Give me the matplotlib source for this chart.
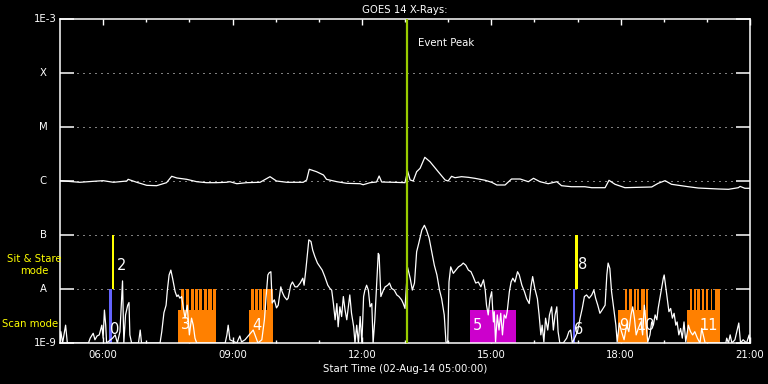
import matplotlib
matplotlib.use("Agg")
import matplotlib.pyplot as plt
import matplotlib.transforms as mtransforms
import numpy as np

# ---- data (hours UT on 02-Aug-14, log10 flux in W/m^2) ----
hi_t = [5.00, 5.46, 5.77, 6.00, 6.24, 6.55, 6.58, 6.78, 7.01, 7.24, 7.47, 7.59, 7.71, 7.94,
        8.17, 8.40, 8.63, 8.86, 8.94, 9.10, 9.33, 9.64, 9.87, 10.02, 10.26, 10.64, 10.72,
        10.78, 10.95, 11.11, 11.18, 11.42, 11.65, 11.96, 12.03, 12.19, 12.34, 12.40, 12.46,
        12.73, 13.00, 13.06, 13.12, 13.19, 13.27, 13.35, 13.46, 13.58, 13.77, 13.93, 14.00,
        14.08, 14.16, 14.31, 14.47, 14.62, 14.86, 15.01, 15.13, 15.32, 15.47, 15.67, 15.86,
        15.98, 16.13, 16.32, 16.52, 16.63, 16.86, 17.17, 17.33, 17.64, 17.73, 17.87, 18.10,
        18.41, 18.72, 18.87, 19.03, 19.18, 19.57, 19.80, 20.27, 20.50, 20.73, 20.77, 20.88,
        21.00]
hi_log = [-5.994, -6.024, -6.006, -5.994, -6.024, -6.000, -5.969, -6.024, -6.080, -6.087,
          -6.031, -5.913, -5.944, -5.969, -6.013, -6.031, -6.031, -6.024, -6.013, -6.050,
          -6.031, -6.024, -5.920, -6.000, -6.024, -6.024, -5.981, -5.783, -5.828, -5.889,
          -5.969, -6.013, -6.043, -6.050, -6.069, -6.031, -6.019, -5.907, -6.019, -6.024,
          -6.031, -5.815, -5.981, -6.000, -5.828, -5.765, -5.561, -5.643, -5.828, -5.981,
          -6.000, -5.913, -5.939, -5.920, -5.932, -5.950, -5.987, -6.024, -6.074, -6.074,
          -5.963, -5.963, -6.013, -5.950, -6.013, -6.050, -6.013, -6.087, -6.106, -6.106,
          -6.124, -6.124, -5.987, -6.061, -6.124, -6.117, -6.111, -6.043, -5.994, -6.061,
          -6.106, -6.130, -6.148, -6.154, -6.124, -6.100, -6.135, -6.135]

lo_t = [5.00, 5.02, 5.06, 5.13, 5.17, 5.66, 5.70, 5.77, 5.81, 5.86, 5.91, 5.97, 6.00, 6.03,
        6.06, 6.08, 6.22, 6.28, 6.33, 6.39, 6.45, 6.48, 6.52, 6.57, 6.60, 6.62, 6.66, 6.82,
        6.86, 6.89, 7.32, 7.36, 7.41, 7.46, 7.49, 7.53, 7.57, 7.61, 7.67, 7.71, 7.74, 7.78,
        7.82, 7.86, 7.90, 7.95, 8.00, 8.05, 8.09, 8.13, 8.17, 8.83, 8.87, 8.90, 8.94, 9.10,
        9.17, 9.21, 9.29, 9.48, 9.59, 9.68, 9.74, 9.78, 9.82, 9.85, 9.89, 9.92, 9.97, 10.02,
        10.06, 10.12, 10.15, 10.20, 10.26, 10.29, 10.35, 10.39, 10.45, 10.50, 10.57, 10.63,
        10.66, 10.70, 10.74, 10.77, 10.82, 10.86, 10.91, 10.97, 11.03, 11.08, 11.14, 11.21,
        11.26, 11.30, 11.34, 11.38, 11.42, 11.45, 11.49, 11.53, 11.57, 11.61, 11.65, 11.69,
        11.72, 11.76, 11.81, 11.84, 11.88, 11.92, 11.96, 12.00, 12.04, 12.07, 12.11, 12.15,
        12.19, 12.23, 12.26, 12.30, 12.34, 12.38, 12.40, 12.44, 12.50, 12.54, 12.60, 12.64,
        12.69, 12.75, 12.81, 12.86, 12.92, 12.96, 13.00, 13.06, 13.12, 13.17, 13.22, 13.27,
        13.32, 13.39, 13.45, 13.50, 13.56, 13.62, 13.68, 13.74, 13.80, 13.85, 13.91, 13.95,
        13.99, 14.02, 14.06, 14.12, 14.18, 14.24, 14.30, 14.35, 14.41, 14.47, 14.53, 14.58,
        14.64, 14.70, 14.76, 14.82, 14.86, 14.89, 14.93, 14.97, 15.01, 15.05, 15.07, 15.10,
        15.14, 15.18, 15.22, 15.26, 15.30, 15.34, 15.37, 15.42, 15.46, 15.50, 15.55, 15.61,
        15.65, 15.71, 15.77, 15.82, 15.88, 15.92, 15.96, 16.01, 16.07, 16.11, 16.15, 16.18,
        16.22, 16.26, 16.31, 16.35, 16.40, 16.44, 16.48, 16.52, 16.55, 16.59, 16.67, 16.75,
        16.80, 16.84, 16.88, 17.00, 17.06, 17.11, 17.16, 17.21, 17.27, 17.33, 17.38, 17.42,
        17.47, 17.52, 17.57, 17.64, 17.68, 17.71, 17.75, 17.79, 17.85, 17.89, 17.92, 17.97,
        18.02, 18.08, 18.14, 18.19, 18.24, 18.28, 18.32, 18.36, 18.41, 18.47, 18.51, 18.55,
        18.59, 18.63, 18.68, 18.72, 18.76, 18.80, 18.84, 18.87, 18.91, 18.95, 18.99, 19.01,
        19.04, 19.08, 19.12, 19.16, 19.20, 19.24, 19.28, 19.31, 19.35, 19.39, 19.43, 19.47,
        19.51, 19.57, 19.62, 19.67, 19.72, 19.78, 19.84, 19.88, 19.96, 20.44, 20.46, 20.50,
        20.54, 20.58, 20.65, 20.74, 20.78, 20.84, 20.92, 20.98, 21.00]
lo_log = [-9.0, -8.79, -9.0, -8.67, -9.0, -9.0, -8.91, -8.82, -8.94, -8.87, -8.85, -8.67,
          -8.91, -8.39, -8.67, -9.0, -8.91, -8.85, -9.0, -8.79, -7.85, -9.0, -8.48, -8.30,
          -8.25, -8.85, -9.0, -9.0, -8.76, -9.0, -9.0, -8.79, -8.44, -8.30, -8.02, -7.74,
          -7.65, -7.80, -8.05, -8.14, -8.11, -8.17, -8.14, -8.35, -8.54, -8.30, -8.85, -8.54,
          -8.67, -8.91, -9.0, -9.0, -8.85, -8.67, -8.94, -9.0, -8.87, -8.98, -8.94, -8.76,
          -9.0, -8.94, -8.57, -8.14, -7.74, -7.70, -7.68, -8.26, -8.20, -8.35, -8.30, -7.96,
          -8.05, -8.14, -8.20, -8.17, -7.93, -7.87, -7.96, -7.96, -7.89, -7.80, -7.93, -7.65,
          -7.34, -7.09, -7.12, -7.28, -7.40, -7.52, -7.59, -7.65, -7.77, -7.93, -7.99, -8.02,
          -8.27, -8.57, -8.27, -8.70, -8.33, -8.51, -8.14, -8.39, -8.57, -8.30, -8.11, -8.45,
          -8.70, -9.0, -8.67, -9.0, -8.51, -9.0, -8.14, -8.02, -7.93, -8.02, -8.33, -8.27,
          -9.0, -8.57, -7.96, -7.34, -7.37, -8.14, -8.02, -7.96, -7.93, -7.89, -7.99, -8.02,
          -8.11, -8.14, -8.20, -8.27, -8.36, -7.60, -7.80, -8.02, -7.89, -7.31, -7.15, -6.91,
          -6.82, -6.91, -7.06, -7.31, -7.56, -7.74, -8.02, -8.18, -8.48, -8.98, -9.0, -7.87,
          -7.59, -7.71, -7.65, -7.59, -7.56, -7.52, -7.56, -7.65, -7.68, -7.77, -7.89, -7.87,
          -7.96, -7.83, -8.02, -8.30, -8.48, -8.18, -8.05, -8.61, -8.42, -8.98, -8.48, -8.76,
          -8.45, -8.85, -8.48, -8.54, -8.42, -8.05, -7.87, -7.80, -7.87, -7.68, -7.74, -7.93,
          -8.05, -8.18, -8.27, -7.96, -7.77, -7.99, -8.18, -8.48, -8.85, -8.67, -8.98, -8.54,
          -8.76, -8.48, -8.33, -8.76, -8.48, -8.33, -8.79, -9.0, -9.0, -8.91, -8.79, -8.76,
          -9.0, -8.79, -8.54, -8.36, -8.14, -8.11, -8.17, -8.11, -8.02, -8.17, -8.30, -8.45,
          -8.39, -8.30, -7.74, -7.52, -7.62, -8.05, -8.42, -8.67, -8.98, -8.63, -8.79, -8.94,
          -8.67, -8.79, -8.48, -8.33, -8.54, -8.85, -8.73, -8.61, -8.85, -8.30, -8.67, -8.98,
          -8.85, -8.61, -8.67, -8.48, -8.57, -8.36, -8.17, -7.99, -7.80, -7.74, -7.93, -8.17,
          -8.42, -8.36, -8.54, -8.45, -8.67, -8.61, -8.85, -8.73, -8.91, -8.61, -8.98, -8.67,
          -8.79, -8.85, -8.79, -8.91, -9.0, -8.73, -9.0, -9.0, -8.91, -9.0, -8.85, -9.0, -8.94,
          -8.63, -9.0, -8.94, -9.0, -8.85, -9.0]

event_peak = 13.04

# scan-mode blocks (orange) and their raster teeth
scan_start = [7.74, 9.38, 17.95, 19.53]
scan_end = [8.62, 9.93, 18.64, 20.30]
scan_top = 4.1e-9
tooth_start = [7.80, 7.92, 8.03, 8.13, 8.23, 8.34, 8.44, 8.54,
               9.43, 9.52, 9.61, 9.71, 9.81,
               18.09, 18.19, 18.30, 18.37, 18.47, 18.59,
               19.61, 19.70, 19.78, 19.88, 19.98, 20.09, 20.19]
tooth_end = [7.88, 7.99, 8.10, 8.20, 8.30, 8.41, 8.52, 8.62,
             9.50, 9.59, 9.68, 9.78, 9.93,
             18.15, 18.26, 18.35, 18.43, 18.56, 18.64,
             19.66, 19.75, 19.84, 19.94, 20.03, 20.13, 20.30]
# other block (magenta)
mag_start, mag_end = 14.51, 15.57

# sit & stare markers
ss_blue_start = [6.14, 16.90]
ss_blue_end = [6.20, 16.95]
ss_yel_start = [6.20, 16.95]
ss_yel_end = [6.245, 17.00]

# observation number labels
obs_lab = ["0", "2", "3", "4", "5", "6", "8", "9", "10", "11"]
obs_t = [6.16, 6.31, 7.81, 9.45, 14.58, 16.93, 17.02, 17.97, 18.37, 19.82]
obs_y = [1.3e-9, 2.0e-8, 1.6e-9, 1.5e-9, 1.5e-9, 1.3e-9, 2.1e-8, 1.5e-9, 1.5e-9, 1.5e-9]

ylev = [1e-3, 1e-4, 1e-5, 1e-6, 1e-7, 1e-8, 1e-9]
ylab = ["1E-3", "X", "M", "C", "B", "A", "1E-9"]
xticks = [6, 9, 12, 15, 18, 21]
xlab = ["06:00", "09:00", "12:00", "15:00", "18:00", "21:00"]

BLUE = "#6464ff"
YEL = "#ffff00"
ORANGE = "#ff8000"
MAG = "#cc00cc"
GREEN = "#99cc00"
FS = 7.3

fig = plt.figure(figsize=(7.68, 3.84), dpi=100, facecolor="black")
ax = fig.add_axes([60 / 768, 1 - 343 / 384, 690 / 768, 324 / 384])
ax.set_facecolor("black")
ax.set_yscale("log")
ax.set_xlim(5, 21)
ax.set_ylim(1e-9, 1e-3)

# blocks
for s, e in zip(scan_start, scan_end):
    ax.bar(s, scan_top - 1e-9, width=e - s, bottom=1e-9, align="edge", color=ORANGE, lw=0, zorder=2)
for s, e in zip(tooth_start, tooth_end):
    ax.bar(s, 1e-8 - 1e-9, width=e - s, bottom=1e-9, align="edge", color=ORANGE, lw=0, zorder=2)
ax.bar(mag_start, scan_top - 1e-9, width=mag_end - mag_start, bottom=1e-9, align="edge",
       color=MAG, lw=0, zorder=2)
for s, e in zip(ss_blue_start, ss_blue_end):
    ax.bar(s, 1e-8 - 1e-9, width=e - s, bottom=1e-9, align="edge", color=BLUE, lw=0, zorder=2)
for s, e in zip(ss_yel_start, ss_yel_end):
    ax.bar(s, 1e-7 - 1e-8, width=e - s, bottom=1e-8, align="edge", color=YEL, lw=0, zorder=2)

for lab, t, y in zip(obs_lab, obs_t, obs_y):
    ax.text(t, y, lab, color="white", fontsize=10.5, ha="left", va="bottom", zorder=3)

# dotted level lines
for lev in ylev[1:-1]:
    ax.axhline(lev, xmin=17 / 690, xmax=676 / 690, color="white", lw=0.72,
               ls=(0, (1, 5)), zorder=1)

# flux curves
ax.plot(hi_t, 10.0 ** np.array(hi_log), color="white", lw=0.9, zorder=4)
ax.plot(lo_t, 10.0 ** np.array(lo_log), color="white", lw=0.9, zorder=4)

ax.axvline(event_peak, color=GREEN, lw=1.6, zorder=5)
ax.text(event_peak + 0.25, 10 ** -3.45, "Event Peak", color="white", fontsize=FS, va="center")

# axes styling
for sp in ax.spines.values():
    sp.set_color("white")
    sp.set_linewidth(1.1)
ax.set_yticks(ylev)
ax.set_yticklabels([])
ax.yaxis.set_minor_locator(matplotlib.ticker.NullLocator())
ax.tick_params(axis="y", which="major", direction="in", length=10, width=1.1,
               color="white", left=True, right=True)
ax.set_xticks(xticks)
ax.set_xticklabels(xlab)
ax.set_xticks(range(6, 21), minor=True)
ax.tick_params(axis="x", which="major", direction="in", length=4.5, width=1.0, color="white",
               top=True, labelcolor="white", labelsize=FS, pad=5)
ax.tick_params(axis="x", which="minor", direction="in", length=2.2, width=1.0, color="white",
               top=True)

trans = mtransforms.blended_transform_factory(ax.transAxes, ax.transData)
for lev, lab in zip(ylev, ylab):
    if lab.startswith("1E"):
        ax.text(-0.005, lev, lab, transform=trans, color="white", fontsize=FS,
                ha="right", va="center")
    else:
        ax.text(-0.0246, lev, lab, transform=trans, color="white", fontsize=FS,
                ha="center", va="center")

ax.set_title("GOES 14 X-Rays:", color="white", fontsize=FS, pad=4)
ax.set_xlabel("Start Time (02-Aug-14 05:00:00)", color="white", fontsize=FS, labelpad=3)

fig.text(34 / 768, 1 - 265 / 384, "Sit & Stare\nmode", color=YEL, fontsize=FS,
         ha="center", va="center", linespacing=1.3)
fig.text(30 / 768, 1 - 324 / 384, "Scan mode", color=YEL, fontsize=FS, ha="center", va="center")

fig.savefig("out.png", dpi=100, facecolor="black")
